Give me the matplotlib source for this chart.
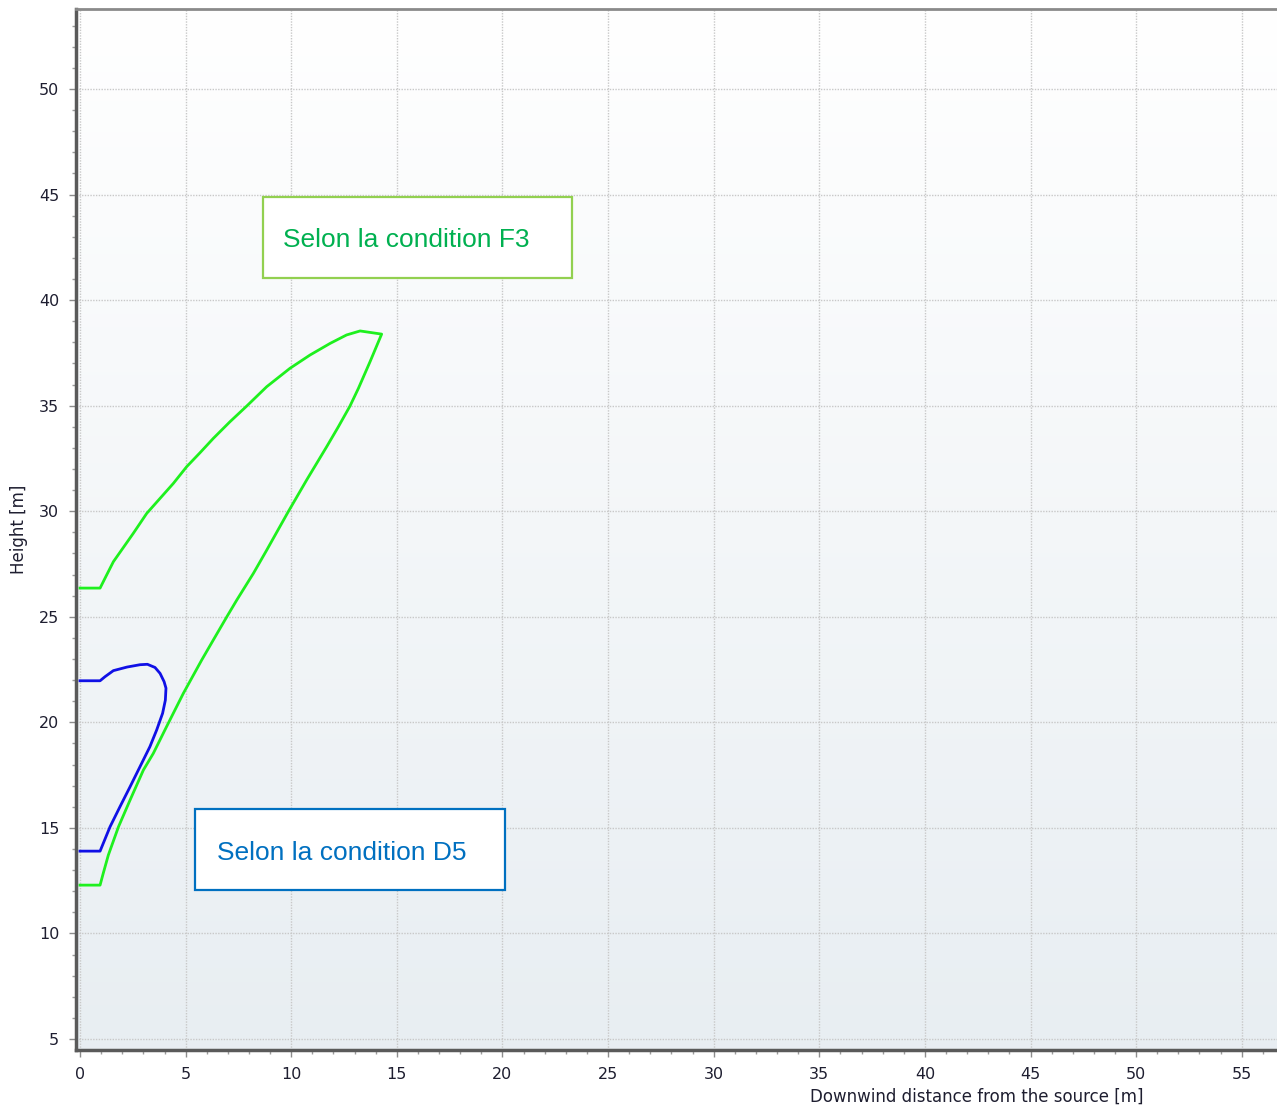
import numpy as np
import matplotlib
matplotlib.use("Agg")
import matplotlib.pyplot as plt
from matplotlib.ticker import MultipleLocator
from matplotlib.patches import Rectangle

# Plume envelope for stability class F3 (upper edge, then lower edge back to the source)
f3_x = [0.0, 0.95, 1.18, 1.58, 2.52, 3.16, 4.42, 5.05, 5.68, 6.31, 7.10, 7.89, 8.84, 9.94,
        10.89, 11.84, 12.62, 13.26, 14.28,
        13.73, 13.18, 12.78, 12.23, 11.68, 10.73, 9.86, 8.84, 8.21, 7.42, 6.95, 6.31, 5.76,
        4.89, 4.10, 3.47, 3.00, 2.37, 1.82, 1.34, 1.10, 0.95, 0.0]
f3_y = [26.36, 26.36, 26.82, 27.61, 28.95, 29.90, 31.32, 32.11, 32.77, 33.45, 34.24, 34.98, 35.90, 36.77,
        37.40, 37.95, 38.35, 38.54, 38.39,
        37.08, 35.82, 34.98, 34.00, 33.06, 31.48, 29.98, 28.16, 27.06, 25.79, 25.00, 23.90, 22.95,
        21.37, 19.80, 18.53, 17.74, 16.32, 15.05, 13.71, 12.85, 12.29, 12.29]

# Plume envelope for stability class D5
d5_x = [0.0, 0.95, 1.18, 1.58, 2.23, 2.84, 3.19, 3.55, 3.79, 3.98, 4.07, 4.04, 3.91, 3.63,
        3.31, 2.84, 2.37, 1.89, 1.42, 0.95, 0.0]
d5_y = [21.97, 21.97, 22.16, 22.45, 22.62, 22.73, 22.75, 22.60, 22.32, 21.93, 21.62, 21.05, 20.43, 19.64,
        18.85, 17.90, 16.95, 16.00, 15.05, 13.90, 13.90]

x_ticks = [0, 5, 10, 15, 20, 25, 30, 35, 40, 45, 50, 55]
y_ticks = [5, 10, 15, 20, 25, 30, 35, 40, 45, 50]

label_f3 = "Selon la condition F3"
label_d5 = "Selon la condition D5"

W, H = 1277, 1110
fig = plt.figure(figsize=(W / 100, H / 100), dpi=100)
ax = fig.add_axes([76 / W, 1 - 1050 / H, (W - 76) / W, (1050 - 9) / H])

ax.set_xlim(-0.19, 56.67)
ax.set_ylim(4.48, 53.79)

# soft vertical background gradient
grad = np.linspace(0, 1, 256).reshape(-1, 1)
top = np.array([1.0, 1.0, 1.0])
bottom = np.array([0.910, 0.933, 0.949])
img = top + (bottom - top) * grad[..., None] * np.ones((1, 2, 3))
ax.imshow(img, extent=[0, 1, 0, 1], transform=ax.transAxes, aspect="auto",
          origin="upper", zorder=0, interpolation="bilinear")

ax.xaxis.set_major_locator(plt.FixedLocator(x_ticks))
ax.yaxis.set_major_locator(plt.FixedLocator(y_ticks))
ax.xaxis.set_minor_locator(MultipleLocator(1))
ax.yaxis.set_minor_locator(MultipleLocator(1))

ax.grid(True, which="major", linestyle=(0, (1, 1)), color="#c8c8c8", linewidth=1.0, zorder=1)
ax.set_axisbelow(True)

ax.tick_params(axis="both", which="major", length=5, width=1, color="#8c8c8c",
               labelsize=11.5, labelcolor="#1e1e30")
ax.tick_params(axis="both", which="minor", length=3, width=1, color="#9c9c9c")
ax.tick_params(axis="x", which="major", pad=7)
ax.tick_params(axis="y", which="major", pad=7)

for side in ("left", "bottom"):
    ax.spines[side].set_linewidth(2.5)
    ax.spines[side].set_color("#5a5a5a")
ax.spines["top"].set_linewidth(2.0)
ax.spines["top"].set_color("#8a8a8a")
ax.spines["right"].set_visible(False)

ax.plot(f3_x, f3_y, color="#1ef01e", linewidth=2.0, zorder=3, solid_joinstyle="round")
ax.plot(d5_x, d5_y, color="#1010e6", linewidth=2.0, zorder=3, solid_joinstyle="round")

ax.set_xlabel("Downwind distance from the source [m]", fontsize=12, color="#1e1e30")
ax.xaxis.set_label_coords((977 - 76) / (W - 76), -(1088 - 1050) / 1041)
ax.set_ylabel("Height [m]", fontsize=12, color="#1e1e30")
ax.yaxis.set_label_coords(-(76 - 28) / (W - 76), 0.5)


def callout(x0, y0, x1, y1, text, edge, txt_color, tx, ty):
    rect = Rectangle((x0, y0), x1 - x0, y1 - y0, facecolor="white",
                     edgecolor=edge, linewidth=1.6, zorder=5)
    ax.add_patch(rect)
    ax.text(tx, ty, text, color=txt_color, fontsize=19,
            family="Liberation Sans", ha="left", va="center", zorder=6)


callout(8.66, 41.05, 23.29, 44.89, label_f3, "#92d050", "#00b050", 9.63, 42.85)
callout(5.44, 12.06, 20.12, 15.89, label_d5, "#0070c0", "#0070c0", 6.47, 13.80)

fig.savefig("out.png", dpi=100)
